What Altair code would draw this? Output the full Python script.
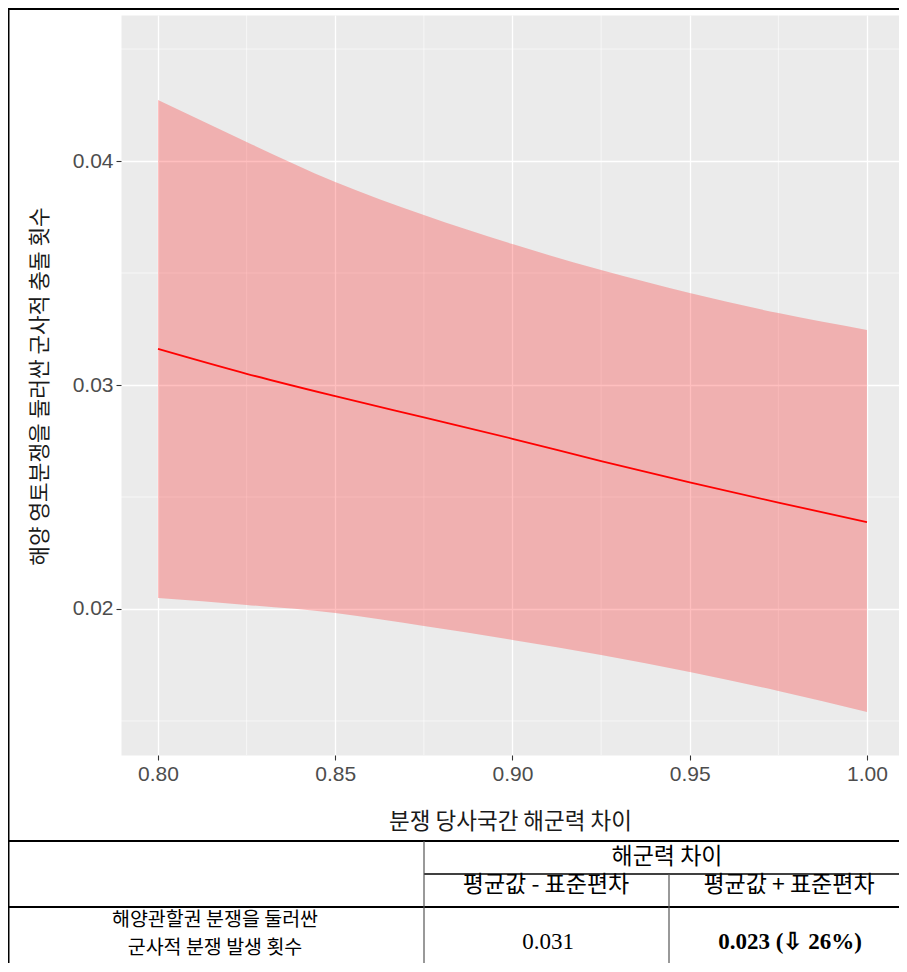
import altair as alt
import pandas as pd

# ---- data ----
x_vals = [0.80, 0.825, 0.85, 0.875, 0.90, 0.925, 0.95, 0.975, 1.00]
fit = [0.03161, 0.03050, 0.02950, 0.02855, 0.02760, 0.02660, 0.02565, 0.02475, 0.02388]
upper = [0.04272, 0.04085, 0.03906, 0.03759, 0.03629, 0.03513, 0.03411, 0.03321, 0.03246]
lower = [0.02049, 0.02018, 0.01982, 0.01924, 0.01862, 0.01795, 0.01719, 0.01634, 0.01540]

x_major = [0.80, 0.85, 0.90, 0.95, 1.00]
x_minor = [0.825, 0.875, 0.925, 0.975]
y_major = [0.02, 0.03, 0.04]
y_minor = [0.015, 0.025, 0.035, 0.045]

x_title = "분쟁 당사국간 해군력 차이"
y_title = "해양 영토분쟁을 둘러싼 군사적 충돌 횟수"

table_header = "해군력 차이"
table_cols = ["평균값 - 표준편차", "평균값 + 표준편차"]
table_row = ["해양관할권 분쟁을 둘러싼", "군사적 분쟁 발생 횟수"]
table_vals = ["0.031", "0.023 (⇩ 26%)"]

df = pd.DataFrame({"x": x_vals, "fit": fit, "hi": upper, "lo": lower})
xmin_df = pd.DataFrame({"v": x_minor})
ymin_df = pd.DataFrame({"v": y_minor})
dummy = pd.DataFrame({"d": [0]})

W, H = 778, 740
xs = alt.Scale(domain=[0.78956, 1.00903], nice=False, zero=False)
ys = alt.Scale(domain=[0.01348, 0.04652], nice=False, zero=False)

KFONT = "Noto Sans CJK KR"

x_axis = alt.Axis(values=x_major, format=".2f", title=x_title, grid=True,
                  gridColor="white", gridWidth=1.3, domain=False,
                  tickColor="#333333", tickSize=5, tickWidth=1.1,
                  labelFont="Liberation Sans", labelFontSize=21, labelColor="#4D4D4D",
                  labelPadding=3, titleFont=KFONT, titleFontSize=22.5,
                  titleColor="#1A1A1A", titleFontWeight="normal",
                  titleY=66, titleBaseline="middle")
y_axis = alt.Axis(values=y_major, format=".2f", title=y_title, grid=True,
                  gridColor="white", gridWidth=1.3, domain=False,
                  tickColor="#333333", tickSize=5, tickWidth=1.1,
                  labelFont="Liberation Sans", labelFontSize=21, labelColor="#4D4D4D",
                  labelPadding=3, titleFont=KFONT, titleFontSize=21.4,
                  titleColor="#1A1A1A", titleFontWeight="normal",
                  titleX=-81, titleY=371, titleAngle=270,
                  titleBaseline="middle", titleAlign="center")

minor_x = alt.Chart(xmin_df).mark_rule(color="white", strokeWidth=0.6).encode(
    x=alt.X("v:Q", scale=xs, axis=None))
minor_y = alt.Chart(ymin_df).mark_rule(color="white", strokeWidth=0.6).encode(
    y=alt.Y("v:Q", scale=ys, axis=None))

band = alt.Chart(df).mark_area(color="#FF0000", opacity=0.25, interpolate="monotone").encode(
    x=alt.X("x:Q", scale=xs, axis=x_axis),
    y=alt.Y("lo:Q", scale=ys, axis=y_axis),
    y2="hi:Q")

line = alt.Chart(df).mark_line(color="#FF0000", strokeWidth=1.8, interpolate="monotone").encode(
    x=alt.X("x:Q", scale=xs, axis=None),
    y=alt.Y("fit:Q", scale=ys, axis=None))

# ---- table and frame (decoration, positioned in pixels) ----
L, R = -113, 778
T_TOP, R1, R2, BOT = 826, 859, 892, 950
C1, C2 = 303, 548


def hrule(x1, x2, y, w=1.6, c="#000000"):
    return alt.Chart(dummy).mark_rule(color=c, strokeWidth=w).encode(
        x=alt.value(x1), x2=alt.value(x2), y=alt.value(y))


def vrule(x, y1, y2, w=1.2, c="#555555"):
    return alt.Chart(dummy).mark_rule(color=c, strokeWidth=w).encode(
        x=alt.value(x), y=alt.value(y1), y2=alt.value(y2))


def cell(text, x, y, font=KFONT, size=23, weight="normal"):
    d = pd.DataFrame({"t": [text]})
    return alt.Chart(d).mark_text(font=font, fontSize=size, fontWeight=weight,
                                  color="#000000", align="center", baseline="middle").encode(
        x=alt.value(x), y=alt.value(y), text="t:N")


frame = [
    hrule(L, R, -6, w=2),
    vrule(L + 0.5, -6, BOT, w=2, c="#000000"),
    hrule(L, R, T_TOP, w=1.8),
    hrule(C1, R, R1, w=1.6),
    hrule(L, R, R2, w=1.8),
    vrule(C1, T_TOP, BOT),
    vrule(C2, R1, BOT),
]

cells = [
    cell(table_header, 546, 842),
    cell(table_cols[0], 425, 870),
    cell(table_cols[1], 668, 870),
    cell(table_row[0], 94, 905, size=19.5),
    cell(table_row[1], 94, 933, size=19.5),
    cell(table_vals[0], 427, 927, font="Liberation Serif", size=23),
    cell(table_vals[1], 669, 927, font="Liberation Serif", size=23, weight="bold"),
]

chart = alt.layer(minor_x, minor_y, band, line, *frame, *cells).resolve_axis(
    x="independent", y="independent"
).properties(
    width=W, height=H,
    padding={"left": 113, "top": 7, "right": 0, "bottom": 208},
    autosize=alt.AutoSizeParams(type="none"),
    background="white",
).configure_view(fill="#EBEBEB", stroke="transparent")

chart.save("out.html", embed_options={"renderer": "svg", "actions": False})
